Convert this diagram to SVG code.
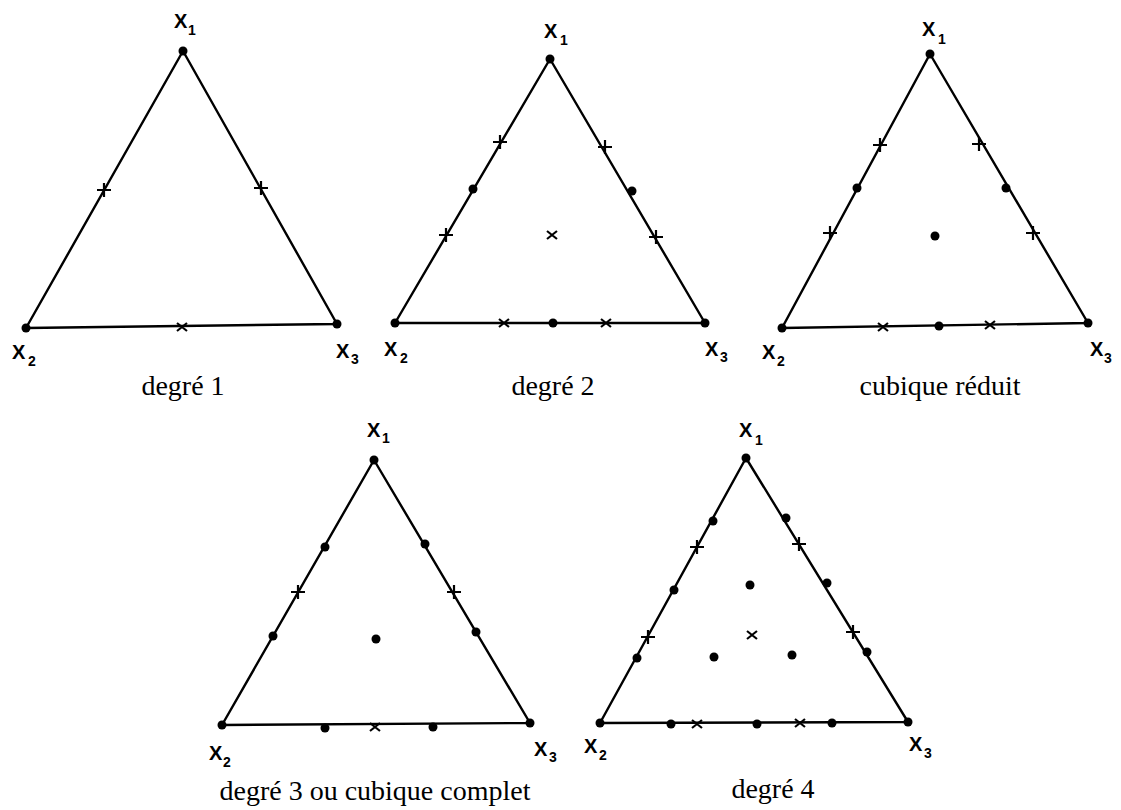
<svg xmlns="http://www.w3.org/2000/svg" xmlns:xlink="http://www.w3.org/1999/xlink" width="1121" height="810" viewBox="0 0 1121 810">
<style>
.tri{fill:none;stroke:#000;stroke-width:2.4;stroke-linejoin:round}
.mk{stroke:#000;stroke-width:2.2;fill:none}
.lbl{font-family:"Liberation Sans",Arial,sans-serif;font-size:20px;font-weight:bold;fill:#000}
.sub{font-family:"Liberation Sans",Arial,sans-serif;font-size:14px;font-weight:bold;fill:#000}
.cap{font-family:"Liberation Serif","Times New Roman",serif;font-size:28px;fill:#000;text-anchor:middle}
</style>
<defs>
<circle id="d" r="4.5" fill="#000"/>
<circle id="v" r="4.5" fill="#000"/>
<path id="x" class="mk" d="M-5,-4L5,4M-5,4L5,-4"/>
<path id="p" class="mk" d="M-7,0L7,0M0,-7L0,7"/>
</defs>
<rect width="1121" height="810" fill="#fff"/>

<g id="tri1">
<polygon class="tri" points="183,51 26,328 337,324"/>
<use xlink:href="#v" x="183" y="51"/><use xlink:href="#v" x="26" y="328"/><use xlink:href="#v" x="337" y="324"/>
<use xlink:href="#p" x="104" y="190"/><use xlink:href="#p" x="261" y="188"/><use xlink:href="#x" x="182" y="327"/>
<text class="lbl" x="174" y="28">X</text><text class="sub" x="188" y="35">1</text>
<text class="lbl" x="12" y="359">X</text><text class="sub" x="28" y="366">2</text>
<text class="lbl" x="336" y="358">X</text><text class="sub" x="351" y="364">3</text>
<text class="cap" x="183" y="395">degré 1</text>
</g>

<g id="tri2">
<polygon class="tri" points="550,59 395,323 705,323"/>
<use xlink:href="#v" x="550" y="59"/><use xlink:href="#v" x="395" y="323"/><use xlink:href="#v" x="705" y="323"/>
<use xlink:href="#p" x="500" y="142"/><use xlink:href="#d" x="473" y="189"/><use xlink:href="#p" x="446" y="235"/>
<use xlink:href="#p" x="605" y="147"/><use xlink:href="#d" x="632" y="191"/><use xlink:href="#p" x="656" y="237"/>
<use xlink:href="#x" x="552" y="235"/>
<use xlink:href="#x" x="504" y="323"/><use xlink:href="#d" x="553" y="323"/><use xlink:href="#x" x="606" y="323"/>
<text class="lbl" x="544" y="38">X</text><text class="sub" x="560" y="45">1</text>
<text class="lbl" x="384" y="356">X</text><text class="sub" x="400" y="363">2</text>
<text class="lbl" x="705" y="356">X</text><text class="sub" x="720" y="362">3</text>
<text class="cap" x="553" y="395">degré 2</text>
</g>

<g id="tri3">
<polygon class="tri" points="930,54 782,328 1088,323"/>
<use xlink:href="#v" x="930" y="54"/><use xlink:href="#v" x="782" y="328"/><use xlink:href="#v" x="1088" y="323"/>
<use xlink:href="#p" x="880" y="145"/><use xlink:href="#d" x="857" y="188"/><use xlink:href="#p" x="830" y="233"/>
<use xlink:href="#p" x="979" y="144"/><use xlink:href="#d" x="1006" y="188"/><use xlink:href="#p" x="1033" y="233"/>
<use xlink:href="#d" x="935" y="236"/>
<use xlink:href="#x" x="883" y="327"/><use xlink:href="#d" x="939" y="326"/><use xlink:href="#x" x="990" y="325"/>
<text class="lbl" x="922" y="36">X</text><text class="sub" x="938" y="44">1</text>
<text class="lbl" x="762" y="359">X</text><text class="sub" x="777" y="366">2</text>
<text class="lbl" x="1090" y="356">X</text><text class="sub" x="1104" y="363">3</text>
<text class="cap" x="940" y="395">cubique réduit</text>
</g>

<g id="tri4">
<polygon class="tri" points="374,460 222,725 530,723"/>
<use xlink:href="#v" x="374" y="460"/><use xlink:href="#v" x="222" y="725"/><use xlink:href="#v" x="530" y="723"/>
<use xlink:href="#d" x="325" y="547"/><use xlink:href="#p" x="298" y="592"/><use xlink:href="#d" x="273" y="636"/>
<use xlink:href="#d" x="425" y="544"/><use xlink:href="#p" x="454" y="592"/><use xlink:href="#d" x="476" y="632"/>
<use xlink:href="#d" x="376" y="639"/>
<use xlink:href="#d" x="325" y="728"/><use xlink:href="#x" x="375" y="727"/><use xlink:href="#d" x="433" y="727"/>
<text class="lbl" x="367" y="437">X</text><text class="sub" x="382" y="443">1</text>
<text class="lbl" x="209" y="760">X</text><text class="sub" x="223" y="767">2</text>
<text class="lbl" x="534" y="756">X</text><text class="sub" x="549" y="762">3</text>
<text class="cap" x="375" y="800">degré 3 ou cubique complet</text>
</g>

<g id="tri5">
<polygon class="tri" points="746,458 600,723 908,722"/>
<use xlink:href="#v" x="746" y="458"/><use xlink:href="#v" x="600" y="723"/><use xlink:href="#v" x="908" y="722"/>
<use xlink:href="#d" x="713" y="521"/><use xlink:href="#p" x="697" y="547"/><use xlink:href="#d" x="674" y="590"/><use xlink:href="#p" x="648" y="637"/><use xlink:href="#d" x="637" y="658"/>
<use xlink:href="#d" x="786" y="518"/><use xlink:href="#p" x="799" y="544"/><use xlink:href="#d" x="827" y="583"/><use xlink:href="#p" x="853" y="632"/><use xlink:href="#d" x="867" y="652"/>
<use xlink:href="#d" x="750" y="585"/><use xlink:href="#x" x="752" y="635"/><use xlink:href="#d" x="714" y="657"/><use xlink:href="#d" x="792" y="655"/>
<use xlink:href="#d" x="671" y="724"/><use xlink:href="#x" x="697" y="724"/><use xlink:href="#d" x="757" y="724"/><use xlink:href="#x" x="800" y="723"/><use xlink:href="#d" x="832" y="723"/>
<text class="lbl" x="739" y="437">X</text><text class="sub" x="755" y="445">1</text>
<text class="lbl" x="584" y="753">X</text><text class="sub" x="599" y="760">2</text>
<text class="lbl" x="909" y="751">X</text><text class="sub" x="924" y="758">3</text>
<text class="cap" x="773" y="798">degré 4</text>
</g>

<g id="connectors"></g>
</svg>
